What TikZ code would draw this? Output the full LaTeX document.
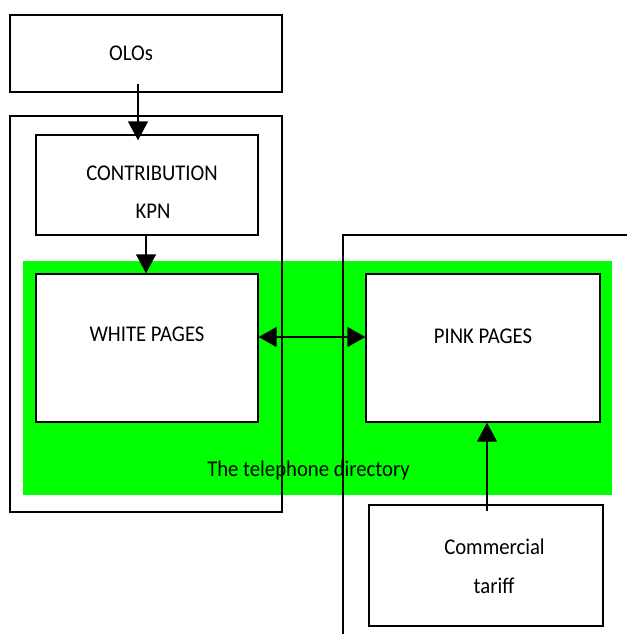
\documentclass[tikz,border=0pt]{standalone}
\usepackage{fontspec}
\setmainfont[FakeStretch=0.92]{Carlito}
\usetikzlibrary{arrows.meta}
\begin{document}
\begin{tikzpicture}[x=1pt,y=-1pt,
  box/.style={draw,line width=1.4pt,fill=white,inner sep=0pt},
  frame/.style={draw,line width=1.4pt,inner sep=0pt},
  lbl/.style={font=\fontsize{22.5}{26}\selectfont,inner sep=0pt,anchor=base},
  arr/.style={-{Triangle[length=19pt,width=20pt]},line width=1.4pt},
  darr/.style={{Triangle[length=18pt,width=20pt]}-{Triangle[length=18pt,width=20pt]},line width=1.4pt}]
\useasboundingbox (0,0) rectangle (627,634);
% green background
\node[fill=green,inner sep=0pt,minimum width=589pt,minimum height=234pt] (green) at (317.5,378) {};
\node[lbl] (dirtxt) at (308.5,476) {The telephone directory};
% outer frames
\node[frame,minimum width=272pt,minimum height=396pt] (outer) at (146,314) {};
\coordinate (fa) at (343,634);
\coordinate (fb) at (343,235);
\coordinate (fc) at (627,235);
\draw[line width=1.4pt] (fa) -- (fb) -- (fc);
% boxes
\node[box,minimum width=272pt,minimum height=77pt] (olos) at (146,53.5) {};
\node[box,minimum width=222pt,minimum height=100pt] (contrib) at (147,185) {};
\node[box,minimum width=222pt,minimum height=148pt] (white) at (147,348) {};
\node[box,minimum width=234pt,minimum height=148pt] (pink) at (483,348) {};
\node[box,minimum width=234pt,minimum height=121pt] (tariff) at (486,565.5) {};
% texts
\node[lbl] (olostxt) at (131,60) {OLOs};
\node[lbl] (contribtxt) at (152,180) {CONTRIBUTION};
\node[lbl] (kpntxt) at (153,218) {KPN};
\node[lbl] (whitetxt) at (147,341) {WHITE PAGES};
\node[lbl] (pinktxt) at (483,343) {PINK PAGES};
\node[lbl] (commtxt) at (494.5,554) {Commercial};
\node[lbl] (tarifftxt) at (494,593) {tariff};
% arrows
\draw[arr] ([xshift=-8pt,yshift=9pt]olos.south) -- ([xshift=-9pt,yshift=-6pt]contrib.north);
\draw[arr] ([xshift=-1pt]contrib.south) -- ([xshift=-1pt]white.north);
\draw[darr] ([yshift=11pt]white.east) -- ([yshift=11pt]pink.west);
\draw[arr] ([xshift=1pt,yshift=-7pt]tariff.north) -- ([xshift=4pt]pink.south);
\end{tikzpicture}
\end{document}
